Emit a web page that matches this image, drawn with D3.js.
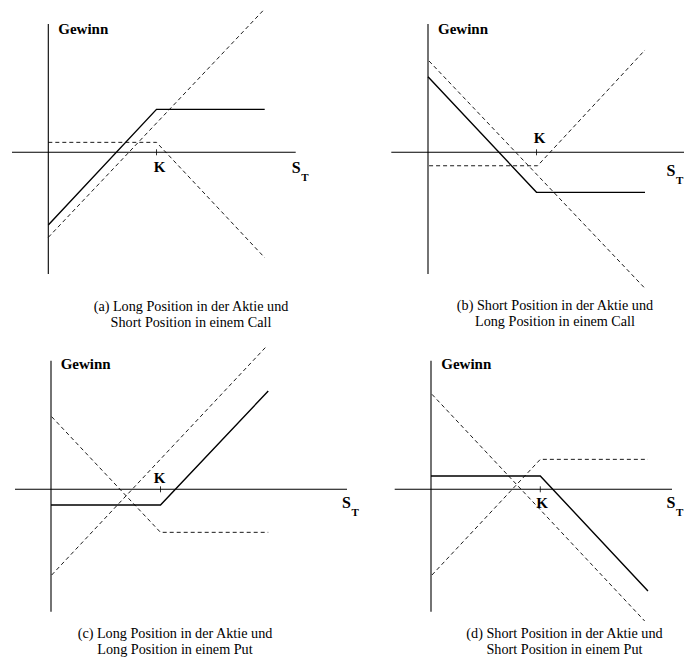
<!DOCTYPE html>
<html>
<head>
<meta charset="utf-8">
<script src="https://cdn.jsdelivr.net/npm/d3@7"></script>
<style>
  html, body { margin: 0; padding: 0; background: #fff; }
  svg { display: block; }
  text { font-family: "Liberation Serif", "Times New Roman", serif; fill: #000; }
</style>
</head>
<body>
<svg id="chart" width="684" height="659"></svg>
<script>
// Payoff diagrams: stock position combined with an option (strike K = 100).
// Points are [S_T, Gewinn].
const strikeK = 100;

// (a) long stock + short call
const aStock     = [[0, -78.6], [199, 131.5]];
const aOption    = [[0, 9.2], [100, 9.2], [200, -97.4]];
const aCombined  = [[0, -67.2], [100, 39.7], [200, 39.7]];

// (b) short stock + long call
const bStock     = [[1, 84.1], [199, -124.4]];
const bOption    = [[1, -12.4], [101, -12.4], [200, 94.3]];
const bCombined  = [[0, 69.7], [100, -36.9], [200, -36.9]];

// (c) long stock + long put
const cStock     = [[0.6, -78.3], [196, 129.7]];
const cOption    = [[0.6, 66.3], [100, -39.3], [198.4, -39.3]];
const cCombined  = [[0, -14.3], [100, -14.3], [198.4, 89.8]];

// (d) short stock + short put
const dStock     = [[0.9, 86.9], [195.5, -120.5]];
const dOption    = [[0.9, -78.4], [100, 27.4], [198.5, 27.4]];
const dCombined  = [[0, 12.2], [100, 12.2], [198.5, -93.0]];

const yLabel = "Gewinn";
const xLabel = "S";
const xLabelSub = "T";
const strikeLabel = "K";

const captions = [
  ["(a) Long Position in der Aktie und", "Short Position in einem Call"],
  ["(b) Short Position in der Aktie und", "Long Position in einem Call"],
  ["(c) Long Position in der Aktie und", "Long Position in einem Put"],
  ["(d) Short Position in der Aktie und", "Short Position in einem Put"]
];

const seriesByPanel = [
  [aStock, aOption, aCombined],
  [bStock, bOption, bCombined],
  [cStock, cOption, cCombined],
  [dStock, dOption, dCombined]
];

// Panel geometry: origin, pixel position of K, axis extents, label placement.
const layout = [
  { ox: 48.3, oy: 152.3, xK: 156.5, vTop: 24, vBot: 274, hLeft: 12, hRight: 295.7,
    gx: 58.3, gy: 33.5, sx: 291.7, sy: 172.5, kx: 159.5, ky: 172, capX: 191, capY: 311 },
  { ox: 428, oy: 152.3, xK: 536.5, vTop: 24, vBot: 274, hLeft: 391.3, hRight: 684,
    gx: 438, gy: 33.5, sx: 666.5, sy: 175.5, kx: 539.5, ky: 142.5, capX: 555, capY: 310 },
  { ox: 51, oy: 489.3, xK: 160.5, vTop: 360.7, vBot: 611.7, hLeft: 15, hRight: 347,
    gx: 60.7, gy: 369.3, sx: 342, sy: 507.5, kx: 159.5, ky: 482.7, capX: 175, capY: 638 },
  { ox: 431, oy: 489.3, xK: 540.3, vTop: 360.7, vBot: 611.7, hLeft: 394.7, hRight: 672,
    gx: 441.3, gy: 369.3, sx: 666.5, sy: 507.5, kx: 542, ky: 508.3, capX: 564.5, capY: 638 }
];

const svg = d3.select("#chart");

layout.forEach((L, i) => {
  const unit = (L.xK - L.ox) / strikeK;
  const x = d3.scaleLinear().domain([0, strikeK]).range([L.ox, L.xK]);
  const y = d3.scaleLinear().domain([0, strikeK]).range([L.oy, L.oy - strikeK * unit]);
  const g = svg.append("g");

  // axes
  g.append("line")
    .attr("x1", L.ox).attr("x2", L.ox).attr("y1", L.vTop).attr("y2", L.vBot)
    .attr("stroke", "#000").attr("stroke-width", 1.1);
  g.append("line")
    .attr("x1", L.hLeft).attr("x2", L.hRight).attr("y1", L.oy).attr("y2", L.oy)
    .attr("stroke", "#000").attr("stroke-width", 1.1);

  // strike tick
  g.append("line")
    .attr("x1", x(strikeK)).attr("x2", x(strikeK))
    .attr("y1", L.oy - 3).attr("y2", L.oy + 3)
    .attr("stroke", "#000").attr("stroke-width", 0.8);

  const line = d3.line().x(d => x(d[0])).y(d => y(d[1]));
  const [stock, option, combined] = seriesByPanel[i];

  [stock, option].forEach(s => {
    g.append("path").datum(s).attr("d", line)
      .attr("fill", "none").attr("stroke", "#000")
      .attr("stroke-width", 0.9).attr("stroke-dasharray", "4,3");
  });
  g.append("path").datum(combined).attr("d", line)
    .attr("fill", "none").attr("stroke", "#000")
    .attr("stroke-width", 1.4).attr("stroke-linejoin", "miter");

  // labels
  g.append("text").attr("x", L.gx).attr("y", L.gy)
    .attr("font-size", 15).attr("font-weight", "bold").text(yLabel);
  g.append("text").attr("x", L.kx).attr("y", L.ky).attr("text-anchor", "middle")
    .attr("font-size", 15).attr("font-weight", "bold").text(strikeLabel);
  g.append("text").attr("x", L.sx).attr("y", L.sy)
    .attr("font-size", 16).attr("font-weight", "bold").text(xLabel);
  g.append("text").attr("x", L.sx + 9.5).attr("y", L.sy + 8)
    .attr("font-size", 11).attr("font-weight", "bold").text(xLabelSub);

  captions[i].forEach((c, j) => {
    g.append("text").attr("x", L.capX).attr("y", L.capY + j * 15.5)
      .attr("text-anchor", "middle").attr("font-size", 14.2).text(c);
  });
});
</script>
</body>
</html>
